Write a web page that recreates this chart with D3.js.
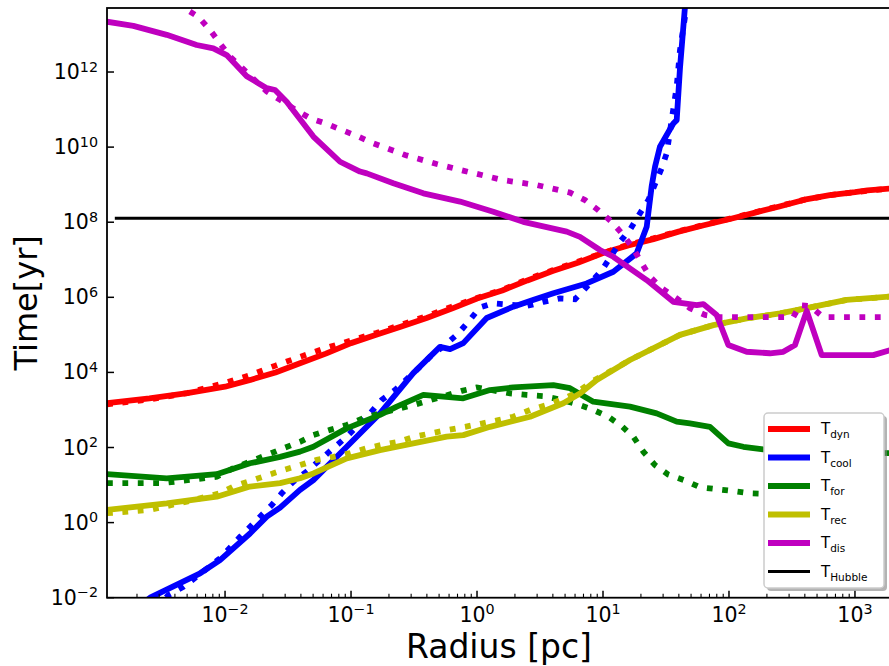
<!DOCTYPE html>
<html>
<head>
<meta charset="utf-8">
<script src="https://cdn.jsdelivr.net/npm/d3@7"></script>
<style>
  body { margin: 0; background: #fff; }
  svg { display: block; font-family: "DejaVu Sans", sans-serif; }
</style>
</head>
<body>
<svg id="chart" width="889" height="666"></svg>
<script>
// values are log10(radius / pc), log10(time / yr)
const dynSolid = [[-2.937,3.18],[-2.6,3.31],[-2.3,3.45],[-2.0,3.62],[-1.8,3.80],[-1.6,4.00],[-1.4,4.25],[-1.2,4.50],[-1.0,4.78],[-0.8,5.00],[-0.6,5.22],[-0.4,5.45],[-0.2,5.70],[0.0,5.97],[0.2,6.18],[0.4,6.45],[0.6,6.70],[0.8,6.92],[1.0,7.18],[1.2,7.38],[1.4,7.55],[1.6,7.75],[1.8,7.92],[2.0,8.08],[2.2,8.25],[2.4,8.42],[2.6,8.60],[2.8,8.72],[3.0,8.80],[3.1,8.85],[3.286,8.90]];
const dynDotted = [[-2.937,3.15],[-2.6,3.28],[-2.3,3.45],[-2.0,3.72],[-1.8,3.93],[-1.6,4.18],[-1.4,4.42],[-1.2,4.65],[-1.0,4.85],[-0.8,5.05],[-0.6,5.27],[-0.4,5.50],[-0.2,5.75],[0.0,5.98],[0.2,6.20],[0.4,6.48],[0.6,6.72],[0.8,6.95],[1.0,7.18],[1.2,7.40],[1.4,7.57],[1.6,7.76],[1.8,7.93],[2.0,8.09],[2.2,8.26],[2.4,8.43],[2.6,8.60],[2.8,8.72],[3.0,8.80],[3.286,8.90]];

const coolSolid = [[-2.75,-2.4],[-2.595,-2.0],[-2.198,-1.35],[-2.04,-1.0],[-1.802,-0.29],[-1.669,0.16],[-1.563,0.40],[-1.405,0.87],[-1.299,1.13],[-1.034,2.02],[-0.770,2.91],[-0.506,3.98],[-0.373,4.42],[-0.294,4.68],[-0.214,4.62],[-0.109,4.78],[0.077,5.45],[0.288,5.75],[0.444,5.93],[0.606,6.11],[0.870,6.37],[1.082,6.68],[1.267,7.17],[1.347,7.88],[1.360,8.25],[1.386,8.95],[1.413,9.48],[1.452,10.01],[1.558,10.63],[1.585,10.72],[1.611,12.1],[1.651,13.75],[1.675,14.5]];
const coolDotted = [[-2.55,-2.3],[-2.45,-1.93],[-2.331,-1.71],[-2.225,-1.44],[-2.04,-0.95],[-1.881,-0.38],[-1.629,0.47],[-1.55,0.78],[-1.458,1.09],[-1.352,1.36],[-1.246,1.67],[-1.14,1.98],[-1.034,2.29],[-0.942,2.60],[-0.849,2.91],[-0.756,3.27],[-0.651,3.53],[-0.452,4.15],[-0.36,4.46],[-0.254,4.73],[-0.148,5.04],[-0.069,5.35],[0.024,5.73],[0.129,5.84],[0.394,5.77],[0.526,5.88],[0.659,5.97],[0.778,5.95],[0.85,6.2],[0.990,6.72],[1.069,7.12],[1.135,7.48],[1.214,7.8],[1.294,8.24],[1.36,8.59],[1.466,9.44],[1.506,9.84],[1.545,10.72],[1.585,11.61],[1.611,12.58],[1.651,13.47],[1.68,14.5]];

const forSolid = [[-2.937,1.29],[-2.463,1.18],[-2.066,1.29],[-1.802,1.58],[-1.563,1.75],[-1.405,1.89],[-1.299,2.02],[-1.034,2.51],[-0.770,2.87],[-0.637,3.09],[-0.426,3.40],[-0.109,3.31],[0.103,3.53],[0.288,3.60],[0.606,3.66],[0.738,3.58],[0.923,3.22],[1.214,3.09],[1.426,2.91],[1.585,2.69],[1.690,2.64],[1.849,2.55],[1.995,2.11],[2.114,2.02],[2.272,1.95],[2.6,1.9],[3.286,1.85]];
const forDotted = [[-2.937,1.05],[-2.5,1.05],[-2.066,1.22],[-1.934,1.45],[-1.669,1.80],[-1.537,1.98],[-1.405,2.15],[-1.299,2.33],[-1.167,2.47],[-1.034,2.60],[-0.902,2.78],[-0.770,2.91],[-0.506,3.13],[-0.373,3.26],[-0.121,3.51],[-0.002,3.60],[0.262,3.44],[0.394,3.40],[0.526,3.37],[0.659,3.28],[0.791,3.16],[0.910,3.02],[1.042,2.82],[1.148,2.57],[1.240,2.29],[1.320,1.89],[1.413,1.53],[1.518,1.28],[1.651,1.12],[1.770,0.94],[1.902,0.89],[2.034,0.84],[2.167,0.78],[2.5,0.74],[3.286,0.72]];

const recSolid = [[-2.937,0.34],[-2.463,0.51],[-2.066,0.69],[-1.802,0.96],[-1.563,1.05],[-1.405,1.18],[-1.299,1.31],[-1.034,1.71],[-0.770,1.93],[-0.506,2.11],[-0.241,2.29],[-0.109,2.33],[0.103,2.55],[0.421,2.82],[0.685,3.18],[0.817,3.44],[0.950,3.80],[1.214,4.33],[1.611,5.0],[1.876,5.26],[2.140,5.44],[2.405,5.57],[2.617,5.71],[2.934,5.93],[3.286,6.02]];
const recDotted = [[-2.937,0.25],[-2.595,0.34],[-2.304,0.56],[-2.04,0.78],[-1.934,0.96],[-1.656,1.27],[-1.537,1.40],[-1.405,1.53],[-1.272,1.67],[-1.140,1.75],[-1.008,1.85],[-0.875,1.98],[-0.756,2.07],[-0.625,2.15],[-0.492,2.29],[-0.360,2.38],[-0.228,2.47],[-0.095,2.55],[0.037,2.64],[0.169,2.73],[0.288,2.82],[0.421,3.0],[0.553,3.13],[0.672,3.28],[0.791,3.46],[0.910,3.75],[1.214,4.33],[1.611,5.0],[1.876,5.26],[2.140,5.44],[2.405,5.57],[2.617,5.71],[2.934,5.93],[3.286,6.02]];

const disSolid = [[-2.937,13.34],[-2.728,13.23],[-2.463,12.99],[-2.225,12.72],[-2.093,12.63],[-1.987,12.45],[-1.828,11.89],[-1.669,11.57],[-1.603,11.52],[-1.511,11.21],[-1.299,10.28],[-1.087,9.61],[-0.929,9.35],[-0.875,9.30],[-0.664,9.04],[-0.426,8.77],[-0.135,8.55],[0.129,8.28],[0.367,8.01],[0.712,7.75],[0.817,7.61],[0.976,7.26],[1.082,7.08],[1.347,6.46],[1.558,5.88],[1.744,5.79],[1.796,5.82],[1.902,5.53],[1.995,4.73],[2.140,4.55],[2.325,4.51],[2.431,4.55],[2.524,4.73],[2.617,5.64],[2.736,4.46],[3.145,4.46],[3.286,4.6]];
const disDotted = [[-2.4,14.3],[-2.317,13.69],[-2.212,13.47],[-2.119,13.12],[-2.040,12.76],[-1.960,12.41],[-1.669,11.48],[-1.563,11.26],[-1.444,11.0],[-1.325,10.77],[-1.193,10.62],[-1.061,10.44],[-0.942,10.28],[-0.823,10.10],[-0.571,9.79],[-0.320,9.55],[-0.056,9.33],[0.209,9.12],[0.474,8.99],[0.738,8.79],[0.857,8.59],[0.963,8.32],[1.069,8.01],[1.161,7.66],[1.240,7.30],[1.307,6.91],[1.373,6.55],[1.466,6.24],[1.585,5.97],[1.690,5.71],[1.810,5.53],[1.929,5.47],[2.510,5.47],[2.563,5.79],[2.643,5.77],[2.749,5.47],[3.286,5.47]];

const hubble = [[-2.875,8.107],[3.286,8.107]];

const seriesNames = ['dyn', 'cool', 'for', 'rec', 'dis'];
const seriesColors = ['#ff0000', '#0000ff', '#008000', '#bfbf00', '#bf00bf'];
const xTickExps = [-2, -1, 0, 1, 2, 3];
const yTickExps = [-2, 0, 2, 4, 6, 8, 10, 12];

const svg = d3.select('#chart');
const plotL = 107, plotR = 891, plotT = 8, plotB = 597.7;

const x = d3.scaleLog().domain([10 ** -2.937, 10 ** 3.286]).range([plotL, plotR]);
const y = d3.scaleLog().domain([1e-2, 10 ** 13.705]).range([plotB, plotT]);

const line = d3.line()
  .x((d) => x(10 ** d[0]))
  .y((d) => y(10 ** d[1]));

svg.append('clipPath').attr('id', 'plotclip')
  .append('rect')
  .attr('x', plotL).attr('y', plotT)
  .attr('width', plotR - plotL).attr('height', plotB - plotT);

const plot = svg.append('g').attr('clip-path', 'url(#plotclip)');

plot.append('path')
  .attr('d', line(hubble))
  .attr('fill', 'none')
  .attr('stroke', '#000')
  .attr('stroke-width', 3);

const pairs = [
  [dynSolid, dynDotted], [coolSolid, coolDotted], [forSolid, forDotted],
  [recSolid, recDotted], [disSolid, disDotted],
];
pairs.forEach(([solid, dotted], i) => {
  plot.append('path')
    .attr('d', line(solid))
    .attr('fill', 'none')
    .attr('stroke', seriesColors[i])
    .attr('stroke-width', 5.8)
    .attr('stroke-linejoin', 'round')
    .attr('stroke-linecap', 'round');
  plot.append('path')
    .attr('d', line(dotted))
    .attr('fill', 'none')
    .attr('stroke', seriesColors[i])
    .attr('stroke-width', 5.8)
    .attr('stroke-dasharray', '5.8,9.6');
});

// ticks point inwards
const xMinor = [];
for (let e = -3; e <= 3; e++) {
  for (let m = 2; m <= 9; m++) {
    const v = m * 10 ** e;
    if (v > x.domain()[0] && v < x.domain()[1]) xMinor.push(v);
  }
}
const ticks = svg.append('g').attr('stroke', '#000');
xMinor.forEach((v) => {
  ticks.append('line')
    .attr('x1', x(v)).attr('x2', x(v))
    .attr('y1', plotB).attr('y2', plotB - 4)
    .attr('stroke-width', 1.1);
});
xTickExps.forEach((e) => {
  ticks.append('line')
    .attr('x1', x(10 ** e)).attr('x2', x(10 ** e))
    .attr('y1', plotB).attr('y2', plotB - 7)
    .attr('stroke-width', 1.5);
});
yTickExps.forEach((e) => {
  ticks.append('line')
    .attr('x1', plotL).attr('x2', plotL + 7)
    .attr('y1', y(10 ** e)).attr('y2', y(10 ** e))
    .attr('stroke-width', 1.5);
});

function powLabel(sel, e) {
  sel.append('tspan').text('10');
  sel.append('tspan')
    .attr('font-size', 14.3)
    .attr('dy', -7.5)
    .text(String(e).replace('-', '\u2212'));
}

xTickExps.forEach((e) => {
  svg.append('text')
    .attr('x', x(10 ** e))
    .attr('y', 621.7)
    .attr('font-size', 20.5)
    .attr('text-anchor', 'middle')
    .call(powLabel, e);
});
yTickExps.forEach((e) => {
  svg.append('text')
    .attr('x', 98)
    .attr('y', y(10 ** e) + 7)
    .attr('font-size', 20.5)
    .attr('text-anchor', 'end')
    .call(powLabel, e);
});

// frame
svg.append('rect')
  .attr('x', plotL).attr('y', plotT)
  .attr('width', plotR - plotL).attr('height', plotB - plotT)
  .attr('fill', 'none')
  .attr('stroke', '#000')
  .attr('stroke-width', 1.8);

svg.append('text')
  .attr('x', (plotL + plotR) / 2)
  .attr('y', 658)
  .attr('font-size', 33)
  .attr('text-anchor', 'middle')
  .text('Radius [pc]');

svg.append('text')
  .attr('transform', `translate(37,${(plotT + plotB) / 2}) rotate(-90)`)
  .attr('font-size', 32)
  .attr('text-anchor', 'middle')
  .text('Time[yr]');

// legend
const legend = svg.append('g').attr('transform', 'translate(764,413)');
legend.append('rect')
  .attr('x', 3).attr('y', 3).attr('width', 120).attr('height', 175).attr('rx', 4)
  .attr('fill', '#808080').attr('opacity', 0.6);
legend.append('rect')
  .attr('width', 120).attr('height', 175).attr('rx', 4)
  .attr('fill', '#fff').attr('stroke', '#cccccc').attr('stroke-width', 1.5);

const legendNames = seriesNames.concat(['Hubble']);
const legendColors = seriesColors.concat(['#000']);
legendNames.forEach((name, i) => {
  const ry = 16 + i * 28.5;
  legend.append('line')
    .attr('x1', 4).attr('x2', 46)
    .attr('y1', ry).attr('y2', ry)
    .attr('stroke', legendColors[i])
    .attr('stroke-width', name === 'Hubble' ? 3 : 5.8);
  const t = legend.append('text')
    .attr('x', 57).attr('y', ry + 5)
    .attr('font-size', 15);
  t.append('tspan').text('T');
  t.append('tspan').attr('font-size', 10.5).attr('dy', 4).text(name);
});
</script>
</body>
</html>
